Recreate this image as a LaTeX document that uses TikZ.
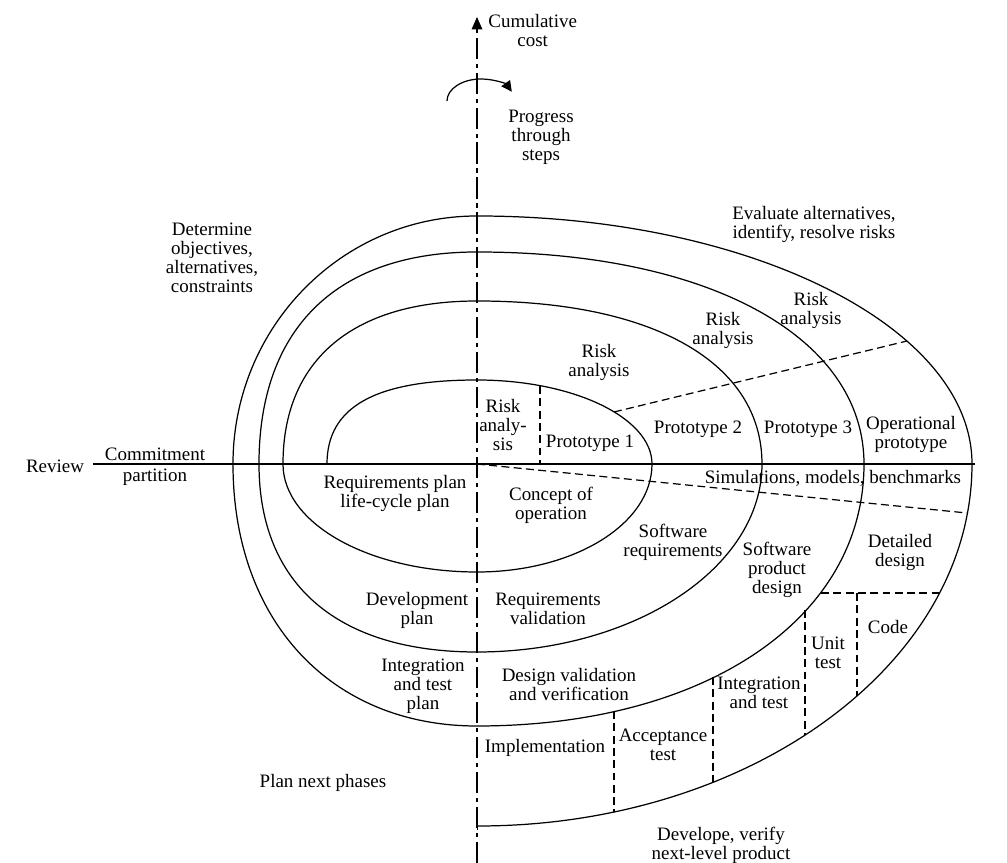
\documentclass[tikz,border=0pt]{standalone}
\usepackage{fontspec}
\setmainfont{Liberation Serif}
\usetikzlibrary{arrows.meta}
\begin{document}
\begin{tikzpicture}[x=0.2mm, y=0.2mm, line width=0.7pt,
    lbl/.style={align=center, inner sep=1pt, font=\fontsize{10.8}{10.8}\selectfont},
    dashline/.style={dash pattern=on 4.5pt off 2.5pt},
    axisline/.style={line width=0.6pt, dash pattern=on 12pt off 2.8pt on 2.3pt off 2.8pt}]
  \useasboundingbox (-477,-399) rectangle (530,464);

  % Axes
  \draw (-384,0) -- (498,0);
  \draw[axisline, -{Triangle[length=7pt, width=6pt]}] (0,-399) -- (0,447);

  % Progress arrow
  \draw[-{Triangle[length=6pt, width=6pt]}] (-30,363) arc[start angle=180, end angle=25, x radius=34, y radius=22];

  % The spiral, from the inside out
  \draw[-{Bar[width=4pt]}] (-150,0)
    .. controls (-150,57) and (-102,84) .. (0,84)
    .. controls (97,84) and (175,46) .. (175,0)
    .. controls (175,-60) and (97,-108) .. (0,-108)
    .. controls (-107,-108) and (-194,-60) .. (-194,0)
    .. controls (-194,104) and (-124,163) .. (0,163)
    .. controls (177,163) and (285,101) .. (285,0)
    .. controls (285,-104) and (157,-188) .. (0,-188)
    .. controls (-140,-188) and (-218,-120) .. (-218,0)
    .. controls (-218,136) and (-140,212) .. (0,212)
    .. controls (232,212) and (387,127) .. (387,0)
    .. controls (387,-155) and (228,-262) .. (0,-262)
    .. controls (-146,-262) and (-244,-157) .. (-244,0)
    .. controls (-244,137) and (-135,248) .. (0,248)
    .. controls (273,248) and (495,137) .. (495,0)
    .. controls (495,-200) and (273,-362) .. (0,-362);

  % Dashed partitions
  \draw[dashline] (63,78) -- (63,0);
  \draw[dashline] (137,52) -- (430,123);
  \draw[dashline] (0,0) -- (490,-49);
  \draw[dashline] (344,-129) -- (462,-129);
  \foreach \x/\ya/\yb in {137/-247/-348, 236/-213/-318, 328/-146/-271, 380/-129/-232}
    \draw[dashline] (\x,\ya) -- (\x,\yb);

  % Labels
  \node[lbl, anchor=west] (cost) at (9,433) {Cumulative\\cost};
  \node[lbl] (progress) at (64,327) {Progress\\through\\steps};
  \node[lbl] (determine) at (-265,206) {Determine\\objectives,\\alternatives,\\constraints};
  \node[lbl] (evaluate) at (337,240) {Evaluate alternatives,\\identify, resolve risks};
  \node[lbl] (risk4) at (334,154) {Risk\\analysis};
  \node[lbl] (risk3) at (246,134) {Risk\\analysis};
  \node[lbl] (risk2) at (122,102) {Risk\\analysis};
  \node[lbl] (risk1) at (26,39) {Risk\\analy-\\sis};
  \node[lbl] (proto1) at (113,21) {Prototype 1};
  \node[lbl] (proto2) at (221,35) {Prototype 2};
  \node[lbl] (proto3) at (331,35) {Prototype 3};
  \node[lbl] (opproto) at (434,30) {Operational\\prototype};
  \node[lbl] (sims) at (356,-14) {Simulations, models, benchmarks};
  \node[lbl] (review) at (-422,-2) {Review};
  \node[lbl] (commit) at (-322,10) {Commitment};
  \node[lbl] (partition) at (-322,-13) {partition};
  \node[lbl] (reqplan) at (-82,-29) {Requirements plan\\life-cycle plan};
  \node[lbl] (concept) at (74,-41) {Concept of\\operation};
  \node[lbl] (swreq) at (196,-78) {Software\\requirements};
  \node[lbl] (swdesign) at (300,-106) {Software\\product\\design};
  \node[lbl] (detailed) at (423,-88) {Detailed\\design};
  \node[lbl] (code) at (411,-163) {Code};
  \node[lbl] (unittest) at (351,-189) {Unit\\test};
  \node[lbl] (inttest) at (282,-229) {Integration\\and test};
  \node[lbl] (acctest) at (186,-281) {Acceptance\\test};
  \node[lbl] (impl) at (68,-284) {Implementation};
  \node[lbl] (designval) at (92,-221) {Design validation\\and verification};
  \node[lbl] (reqval) at (71,-145) {Requirements\\validation};
  \node[lbl] (devplan) at (-60,-146) {Development\\plan};
  \node[lbl] (intplan) at (-54,-222) {Integration\\and test\\plan};
  \node[lbl] (nextphases) at (-154,-319) {Plan next phases};
  \node[lbl] (develope) at (244,-381) {Develope, verify\\next-level product};
\end{tikzpicture}
\end{document}
